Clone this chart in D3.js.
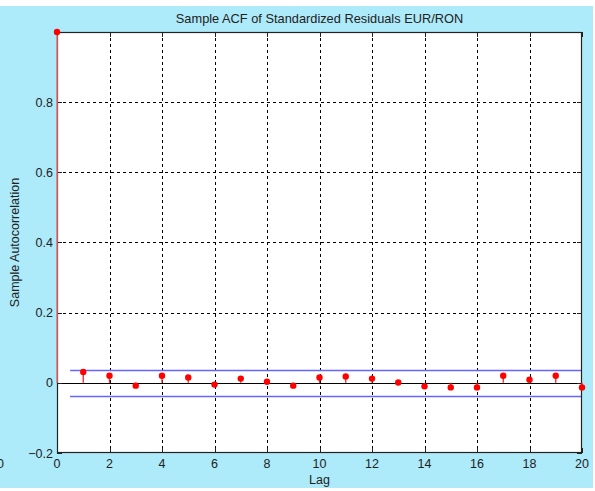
<!DOCTYPE html>
<html>
<head>
<meta charset="utf-8">
<script src="https://cdn.jsdelivr.net/npm/d3@7"></script>
<style>
  html, body { margin: 0; padding: 0; background: #ffffff; }
  svg { display: block; }
  text { font-family: "Liberation Sans", Arial, sans-serif; fill: #222; }
</style>
</head>
<body>
<svg id="chart" width="595" height="491"></svg>
<script>
// Sample autocorrelation of standardized residuals, lags 0..20
const lags = d3.range(0, 21);
const acfValues = [1.0, 0.031, 0.020, -0.008, 0.020, 0.015, -0.005, 0.012, 0.003, -0.008,
                   0.015, 0.018, 0.012, 0.001, -0.010, -0.013, -0.013, 0.020, 0.009, 0.020, -0.013];
const confBounds = [0.037, -0.037];
const xTicks = [0, 2, 4, 6, 8, 10, 12, 14, 16, 18, 20];
const yTicks = [-0.2, 0, 0.2, 0.4, 0.6, 0.8];
const yGrid = [0.2, 0.4, 0.6, 0.8];

const svg = d3.select("#chart");

// figure background
svg.append("rect").attr("x", 0).attr("y", 6).attr("width", 593).attr("height", 482).attr("fill", "#adeafa");

const plotL = 57, plotR = 582, plotT = 32, plotB = 453;
const x = d3.scaleLinear().domain([0, 20]).range([plotL, plotR]);
const y = d3.scaleLinear().domain([-0.2, 1.0]).range([plotB, plotT]);

svg.append("rect").attr("x", plotL).attr("y", plotT).attr("width", plotR - plotL).attr("height", plotB - plotT)
  .attr("fill", "#ffffff");

// dotted grid
const grid = svg.append("g").attr("stroke", "#000").attr("stroke-width", 1).attr("stroke-dasharray", "3,3");
grid.selectAll("line.vx").data(xTicks.filter(d => d > 0 && d < 20)).join("line")
  .attr("x1", d => Math.round(x(d)) + 0.5).attr("x2", d => Math.round(x(d)) + 0.5)
  .attr("y1", plotT).attr("y2", plotB);
grid.selectAll("line.hy").data(yGrid).join("line")
  .attr("y1", d => Math.round(y(d)) + 0.5).attr("y2", d => Math.round(y(d)) + 0.5)
  .attr("x1", plotL).attr("x2", plotR);

// zero line
svg.append("line").attr("x1", plotL).attr("x2", plotR)
  .attr("y1", Math.round(y(0)) + 0.5).attr("y2", Math.round(y(0)) + 0.5)
  .attr("stroke", "#000").attr("stroke-width", 1);

// confidence bounds
svg.selectAll("line.bound").data(confBounds).join("line")
  .attr("x1", x(0.5)).attr("x2", x(20))
  .attr("y1", d => Math.round(y(d)) + 0.5).attr("y2", d => Math.round(y(d)) + 0.5)
  .attr("stroke", "#6666ff").attr("stroke-width", 1.3);

// axes box
svg.append("rect").attr("x", plotL + 0.5).attr("y", plotT + 0.5).attr("width", plotR - plotL - 1).attr("height", plotB - plotT - 1)
  .attr("fill", "none").attr("stroke", "#222").attr("stroke-width", 1.2);

// inward tick marks
const tk = svg.append("g").attr("stroke", "#222").attr("stroke-width", 1);
tk.selectAll("line.xb").data(xTicks).join("line")
  .attr("x1", d => Math.round(x(d)) + 0.5).attr("x2", d => Math.round(x(d)) + 0.5)
  .attr("y1", plotB).attr("y2", plotB - 5);
tk.selectAll("line.xt").data(xTicks).join("line")
  .attr("x1", d => Math.round(x(d)) + 0.5).attr("x2", d => Math.round(x(d)) + 0.5)
  .attr("y1", plotT).attr("y2", plotT + 5);
tk.selectAll("line.yl").data(yTicks).join("line")
  .attr("y1", d => Math.round(y(d)) + 0.5).attr("y2", d => Math.round(y(d)) + 0.5)
  .attr("x1", plotL).attr("x2", plotL + 5);
tk.selectAll("line.yr").data(yTicks).join("line")
  .attr("y1", d => Math.round(y(d)) + 0.5).attr("y2", d => Math.round(y(d)) + 0.5)
  .attr("x1", plotR).attr("x2", plotR - 5);

// stems
const data = lags.map((l, i) => ({ lag: l, v: acfValues[i] }));
svg.selectAll("line.stem").data(data).join("line")
  .attr("x1", d => x(d.lag)).attr("x2", d => x(d.lag))
  .attr("y1", y(0)).attr("y2", d => y(d.v))
  .attr("stroke", d => d.lag === 0 ? "#f07070" : "#ff2020").attr("stroke-width", d => d.lag === 0 ? 1.5 : 1.3);

// markers
svg.selectAll("circle.pt").data(data).join("circle")
  .attr("cx", d => x(d.lag)).attr("cy", d => y(d.v)).attr("r", 3.2)
  .attr("fill", "#ff0000");

// tick labels
svg.selectAll("text.xl").data(xTicks).join("text")
  .attr("x", d => x(d)).attr("y", 468).attr("text-anchor", "middle")
  .attr("font-size", 12.5).text(d => d3.format("d")(d));
svg.selectAll("text.yl").data(yTicks).join("text")
  .attr("x", plotL - 4).attr("y", d => y(d) + 4.5).attr("text-anchor", "end")
  .attr("font-size", 12.5).text(d => d === 0 ? "0" : d3.format(".1f")(d));

// partial label at the left edge of the figure
svg.append("text").attr("x", 4).attr("y", 468).attr("text-anchor", "end").attr("font-size", 12.5).text("0");

// titles
svg.append("text").attr("x", (plotL + plotR) / 2).attr("y", 23).attr("text-anchor", "middle")
  .attr("font-size", 12.8).text("Sample ACF of Standardized Residuals EUR/RON");
svg.append("text").attr("x", (plotL + plotR) / 2).attr("y", 484).attr("text-anchor", "middle")
  .attr("font-size", 12.5).text("Lag");
svg.append("text").attr("transform", `translate(19,${(plotT + plotB) / 2}) rotate(-90)`)
  .attr("text-anchor", "middle").attr("font-size", 12.5).text("Sample Autocorrelation");
</script>
</body>
</html>
